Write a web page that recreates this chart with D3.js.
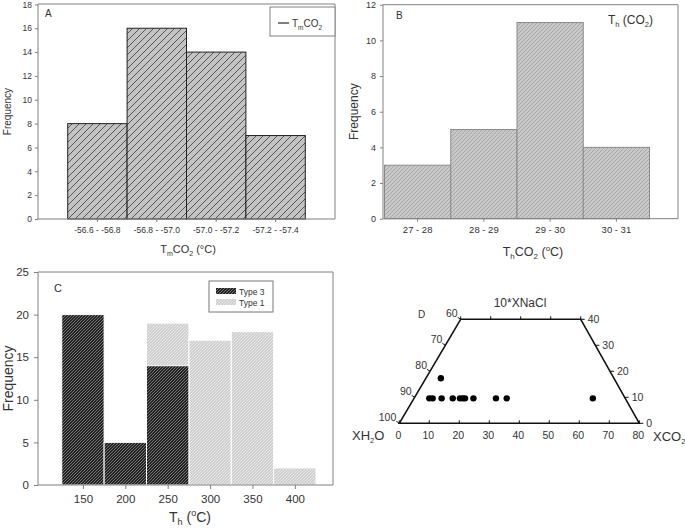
<!DOCTYPE html>
<html><head><meta charset="utf-8">
<script src="https://cdn.jsdelivr.net/npm/d3@7"></script>
<style>
body{margin:0;background:#fff}
svg{display:block}
text{font-family:"Liberation Sans",Arial,sans-serif;fill:#333}
</style>
</head><body>
<svg id="chart" width="685" height="529"></svg>
<script>
// ---- Panel A data ----
const aCategories = ["-56.6 - -56.8", "-56.8 - -57.0", "-57.0 - -57.2", "-57.2 - -57.4"];
const aFrequency = [8, 16, 14, 7];
const aYTicks = [0, 2, 4, 6, 8, 10, 12, 14, 16, 18];
// ---- Panel B data ----
const bCategories = ["27 - 28", "28 - 29", "29 - 30", "30 - 31"];
const bFrequency = [3, 5, 11, 4];
const bYTicks = [0, 2, 4, 6, 8, 10, 12];
// ---- Panel C data ----
const cType3Bins = [150, 200, 250];
const cType3Freq = [20, 5, 14];
const cType1Bins = [250, 300, 350, 400];
const cType1Freq = [19, 17, 18, 2];
const cXTicks = [150, 200, 250, 300, 350, 400];
const cYTicks = [0, 5, 10, 15, 20, 25];
// ---- Panel D data (XCO2, 10*XNaCl) ----
const dXCO2 = [5.1, 6.2, 9.2, 12.9, 15.3, 16.2, 17.0, 19.8, 27.3, 30.9, 59.6, 5.0];
const dNaCl = [9.6, 9.6, 9.6, 9.6, 9.6, 9.6, 9.6, 9.6, 9.6, 9.6, 9.6, 17.3];
const dBottomTicks = [0, 10, 20, 30, 40, 50, 60, 70, 80];
const dEdgeTicks = [0, 10, 20, 30, 40];

const svg = d3.select("#chart");
const defs = svg.append("defs");
function hatch(id, w, bg, fg, sw) {
  const p = defs.append("pattern").attr("id", id).attr("patternUnits", "userSpaceOnUse")
    .attr("width", w).attr("height", w);
  p.append("rect").attr("width", w).attr("height", w).attr("fill", bg);
  p.append("path").attr("d", `M0,${w} L${w},0 M${-w/2},${w/2} L${w/2},${-w/2} M${w/2},${w*1.5} L${w*1.5},${w/2}`)
    .attr("stroke", fg).attr("stroke-width", sw);
}
hatch("hA", 7, "#c3c3c3", "#3a3a3a", 0.8);
hatch("hB", 4, "#c8c8c8", "#9c9c9c", 0.7);
hatch("hC3", 3, "#222", "#8a8a8a", 0.8);
hatch("hC1", 3, "#cfcfcf", "#efefef", 0.8);

const axisCol = "#808080";

// ================= Panel A =================
{
  const L = 38, R = 335, T = 4, B = 219;
  const x = d3.scaleBand().domain(aCategories).range([67.7, 305.3]).padding(0);
  const y = d3.scaleLinear().domain([0, 18]).range([B, 4.4]);
  const g = svg.append("g");
  g.selectAll("rect.bar").data(aFrequency).join("rect").attr("class", "bar")
    .attr("x", (d, i) => x(aCategories[i])).attr("width", x.bandwidth())
    .attr("y", d => y(d)).attr("height", d => B - y(d))
    .attr("fill", "url(#hA)").attr("stroke", "#222").attr("stroke-width", 1);
  g.append("path").attr("d", `M${L},${B} L${L},${T} L${R},${T} L${R},${B} Z`).attr("fill", "none").attr("stroke", axisCol);
  const ya = g.append("g").attr("transform", `translate(${L},0)`)
    .call(d3.axisLeft(y).tickValues(aYTicks).tickSize(3).tickPadding(3));
  ya.select(".domain").remove();
  ya.selectAll("line").attr("stroke", axisCol);
  ya.selectAll("text").attr("font-size", 8.5).attr("font-family", null);
  const xa = g.append("g").attr("transform", `translate(0,${B})`)
    .call(d3.axisBottom(x).tickSize(3).tickPadding(5));
  xa.select(".domain").remove();
  xa.selectAll("line").attr("stroke", axisCol);
  xa.selectAll("text").attr("font-size", 8.5).attr("font-family", null);
  g.append("text").attr("x", 45).attr("y", 17).attr("font-size", 10).text("A");
  const t = g.append("text").attr("x", 188).attr("y", 253).attr("text-anchor", "middle").attr("font-size", 11);
  t.append("tspan").text("T"); t.append("tspan").text("m").attr("font-size", 7).attr("dy", 3);
  t.append("tspan").text("CO").attr("dy", -3); t.append("tspan").text("2").attr("font-size", 7).attr("dy", 3);
  t.append("tspan").text(" (°C)").attr("dy", -3);
  g.append("text").attr("transform", `translate(11,${(T + B) / 2}) rotate(-90)`).attr("text-anchor", "middle")
    .attr("font-size", 10).text("Frequency");
  g.append("rect").attr("x", 270).attr("y", 7).attr("width", 65).attr("height", 29).attr("fill", "#fff").attr("stroke", axisCol);
  g.append("line").attr("x1", 278).attr("x2", 289).attr("y1", 23).attr("y2", 23).attr("stroke", "#000");
  const lt = g.append("text").attr("x", 292).attr("y", 27).attr("font-size", 10);
  lt.append("tspan").text("T"); lt.append("tspan").text("m").attr("font-size", 6.5).attr("dy", 3);
  lt.append("tspan").text("CO").attr("dy", -3); lt.append("tspan").text("2").attr("font-size", 6.5).attr("dy", 3);
}

// ================= Panel B =================
{
  const L = 383, R = 678, T = 4.7, B = 218.7;
  const x = d3.scaleBand().domain(bCategories).range([384.5, 649.5]).padding(0);
  const y = d3.scaleLinear().domain([0, 12]).range([B, T]);
  const g = svg.append("g");
  g.selectAll("rect.bar").data(bFrequency).join("rect").attr("class", "bar")
    .attr("x", (d, i) => x(bCategories[i])).attr("width", x.bandwidth())
    .attr("y", d => y(d)).attr("height", d => B - y(d))
    .attr("fill", "url(#hB)").attr("stroke", "#8a8a8a").attr("stroke-width", 1);
  g.append("path").attr("d", `M${L},${B} L${L},${T} L${R},${T} L${R},${B} Z`).attr("fill", "none").attr("stroke", axisCol);
  const ya = g.append("g").attr("transform", `translate(${L},0)`)
    .call(d3.axisLeft(y).tickValues(bYTicks).tickSize(3).tickPadding(4));
  ya.select(".domain").remove();
  ya.selectAll("line").attr("stroke", axisCol);
  ya.selectAll("text").attr("font-size", 9).attr("font-family", null);
  const xa = g.append("g").attr("transform", `translate(0,${B})`)
    .call(d3.axisBottom(x).tickSize(3).tickPadding(5));
  xa.select(".domain").remove();
  xa.selectAll("line").attr("stroke", axisCol);
  xa.selectAll("text").attr("font-size", 9.5).attr("font-family", null);
  g.append("text").attr("x", 396).attr("y", 19).attr("font-size", 10).text("B");
  const t = g.append("text").attr("x", 533).attr("y", 256).attr("text-anchor", "middle").attr("font-size", 12.5);
  t.append("tspan").text("T"); t.append("tspan").text("h").attr("font-size", 8).attr("dy", 3);
  t.append("tspan").text("CO").attr("dy", -3); t.append("tspan").text("2").attr("font-size", 8).attr("dy", 3);
  t.append("tspan").text(" (").attr("dy", -3); t.append("tspan").text("o").attr("font-size", 8).attr("dy", -5);
  t.append("tspan").text("C)").attr("dy", 5);
  const lt = g.append("text").attr("x", 608).attr("y", 24).attr("font-size", 12);
  lt.append("tspan").text("T"); lt.append("tspan").text("h").attr("font-size", 7.5).attr("dy", 3);
  lt.append("tspan").text(" (CO").attr("dy", -3); lt.append("tspan").text("2").attr("font-size", 7.5).attr("dy", 3);
  lt.append("tspan").text(")").attr("dy", -3);
  g.append("text").attr("transform", `translate(358,${(T + B) / 2}) rotate(-90)`).attr("text-anchor", "middle")
    .attr("font-size", 12).text("Frequency");
}

// ================= Panel C =================
{
  const L = 38, R = 333, T = 272, B = 485;
  const x = d3.scaleLinear().domain([97, 445]).range([L, R]);
  const y = d3.scaleLinear().domain([0, 25]).range([B, T]);
  const g = svg.append("g");
  const half = 25;
  g.selectAll("rect.t1").data(cType1Freq).join("rect").attr("class", "t1")
    .attr("x", (d, i) => x(cType1Bins[i] - half)).attr("width", (d, i) => x(cType1Bins[i] + half) - x(cType1Bins[i] - half))
    .attr("y", d => y(d)).attr("height", d => B - y(d))
    .attr("fill", "url(#hC1)").attr("stroke", "#fff").attr("stroke-width", 1);
  g.selectAll("rect.t3").data(cType3Freq).join("rect").attr("class", "t3")
    .attr("x", (d, i) => x(cType3Bins[i] - half)).attr("width", (d, i) => x(cType3Bins[i] + half) - x(cType3Bins[i] - half))
    .attr("y", d => y(d)).attr("height", d => B - y(d))
    .attr("fill", "url(#hC3)").attr("stroke", "#fff").attr("stroke-width", 1);
  g.append("path").attr("d", `M${L},${B} L${L},${T} L${R},${T} L${R},${B} Z`).attr("fill", "none").attr("stroke", axisCol);
  const ya = g.append("g").attr("transform", `translate(${L},0)`)
    .call(d3.axisLeft(y).tickValues(cYTicks).tickSize(4).tickPadding(5));
  ya.select(".domain").remove();
  ya.selectAll("line").attr("stroke", axisCol);
  ya.selectAll("text").attr("font-size", 11.5).attr("font-family", null);
  const xa = g.append("g").attr("transform", `translate(0,${B})`)
    .call(d3.axisBottom(x).tickValues(cXTicks).tickSize(4).tickPadding(6));
  xa.select(".domain").remove();
  xa.selectAll("line").attr("stroke", axisCol);
  xa.selectAll("text").attr("font-size", 11.5).attr("font-family", null);
  g.append("text").attr("x", 54).attr("y", 292).attr("font-size", 11).text("C");
  const t = g.append("text").attr("x", 190).attr("y", 522).attr("text-anchor", "middle").attr("font-size", 14);
  t.append("tspan").text("T"); t.append("tspan").text("h").attr("font-size", 9).attr("dy", 3);
  t.append("tspan").text(" (").attr("dy", -3); t.append("tspan").text("o").attr("font-size", 9).attr("dy", -6);
  t.append("tspan").text("C)").attr("dy", 6);
  g.append("text").attr("transform", `translate(13,${(T + B) / 2}) rotate(-90)`).attr("text-anchor", "middle")
    .attr("font-size", 14).text("Frequency");
  g.append("rect").attr("x", 209).attr("y", 281).attr("width", 64).attr("height", 31).attr("fill", "#fff").attr("stroke", "#777");
  g.append("rect").attr("x", 216).attr("y", 288).attr("width", 20).attr("height", 6).attr("fill", "url(#hC3)");
  g.append("rect").attr("x", 216).attr("y", 299).attr("width", 20).attr("height", 6).attr("fill", "url(#hC1)");
  g.append("text").attr("x", 239).attr("y", 294.5).attr("font-size", 8.5).text("Type 3");
  g.append("text").attr("x", 239).attr("y", 305.5).attr("font-size", 8.5).text("Type 1");
}

// ================= Panel D =================
{
  const xa = d3.scaleLinear().domain([0, 80]).range([399.3, 639.3]);
  const shift = d3.scaleLinear().domain([0, 40]).range([0, 61.4]);
  const yc = d3.scaleLinear().domain([0, 40]).range([423.3, 319.3]);
  const P = (a, c) => [xa(a) + shift(c), yc(c)];
  const g = svg.append("g");
  const corners = [P(0, 0), P(80, 0), P(40, 40), P(0, 40)];
  g.append("path").attr("d", "M" + corners.map(p => p.join(",")).join("L") + "Z")
    .attr("fill", "none").attr("stroke", "#111").attr("stroke-width", 1.5);
  dBottomTicks.forEach(v => {
    const [px, py] = P(v, 0);
    g.append("line").attr("x1", px).attr("x2", px).attr("y1", py).attr("y2", py - 3).attr("stroke", "#111");
    g.append("text").attr("x", px - 1).attr("y", py + 15.5).attr("text-anchor", "middle").attr("font-size", 10.5).text(v);
  });
  dEdgeTicks.forEach(v => {
    const [px, py] = P(v, 40);
    g.append("line").attr("x1", px).attr("x2", px).attr("y1", py).attr("y2", py - 3).attr("stroke", "#111");
  });
  dEdgeTicks.forEach(c => {
    const [px, py] = P(0, c);
    g.append("line").attr("x1", px).attr("x2", px - 3).attr("y1", py).attr("y2", py - 2).attr("stroke", "#111");
    g.append("text").attr("x", px - 3).attr("y", py - 2).attr("text-anchor", "end").attr("font-size", 10.5).text(100 - c);
  });
  dEdgeTicks.forEach(c => {
    const [px, py] = P(80 - c, c);
    g.append("line").attr("x1", px).attr("x2", px + 4).attr("y1", py).attr("y2", py).attr("stroke", "#111");
    g.append("text").attr("x", px + 7).attr("y", py + 4).attr("font-size", 10.5).text(c);
  });
  g.selectAll("circle").data(dXCO2).join("circle")
    .attr("cx", (d, i) => P(d, dNaCl[i])[0]).attr("cy", (d, i) => P(d, dNaCl[i])[1])
    .attr("r", 3.2).attr("fill", "#000");
  g.append("text").attr("x", 520).attr("y", 307).attr("text-anchor", "middle").attr("font-size", 12).text("10*XNaCl");
  g.append("text").attr("x", 418).attr("y", 318).attr("font-size", 10).text("D");
  const l1 = g.append("text").attr("x", 352).attr("y", 440).attr("font-size", 13);
  l1.append("tspan").text("XH"); l1.append("tspan").text("2").attr("font-size", 7.5).attr("dy", 3);
  l1.append("tspan").text("O").attr("dy", -3);
  const l2 = g.append("text").attr("x", 653).attr("y", 441).attr("font-size", 13);
  l2.append("tspan").text("XCO"); l2.append("tspan").text("2").attr("font-size", 7.5).attr("dy", 3);
}
</script>
</body></html>
